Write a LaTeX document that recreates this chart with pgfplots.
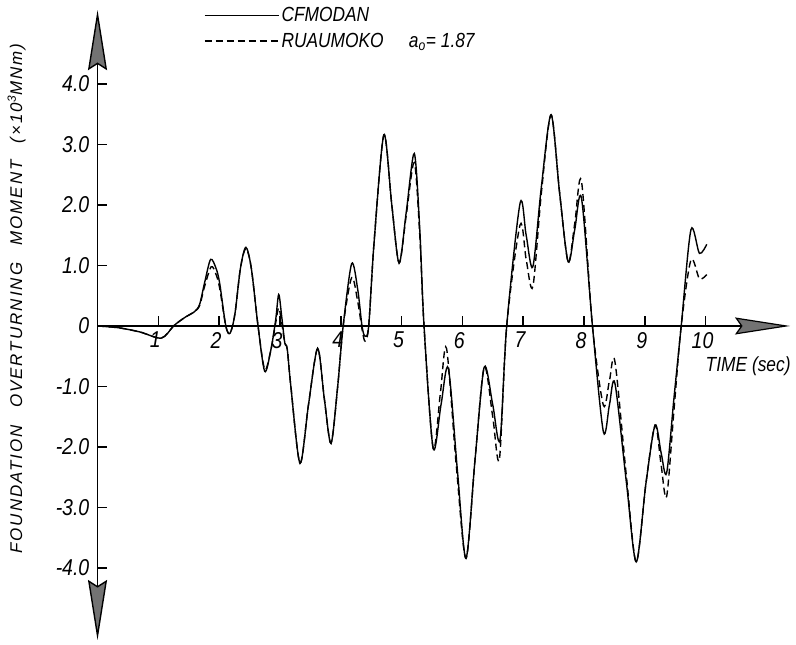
\documentclass[border=0pt]{standalone}
\usepackage{fontspec}
\setmainfont{Liberation Sans}[FakeStretch=0.85]
\newfontfamily\labfont{Liberation Sans}[LetterSpace=12]
\usepackage{pgfplots}
\pgfplotsset{compat=1.18}
\usetikzlibrary{arrows.meta}
\begin{document}
\begin{tikzpicture}
\begin{axis}[
  x=60.8bp, y=60.5bp,
  xmin=0, xmax=11.39, ymin=-5.19, ymax=5.22,
  axis x line*=middle, axis y line*=left,
  clip=false,
  unbounded coords=jump,
  x axis line style={line width=1.2bp, -{Stealth[length=55bp,width=17bp,inset=6bp,fill=black!55]}},
  y axis line style={line width=1.4bp, {Stealth[length=60bp,width=19bp,inset=6bp,fill=black!55]}-{Stealth[length=60bp,width=19bp,inset=6bp,fill=black!55]}},
  xtick={1,2,3,4,5,6,7,8,9,10},
  xticklabels={1,2,3,4,5,6,7,8,9,10},
  ytick={-4,-3,-2,-1,0,1,2,3,4},
  yticklabels={-4.0,-3.0,-2.0,-1.0,0,1.0,2.0,3.0,4.0},
  major tick length=0pt,
  ticklabel style={font=\itshape\fontsize{23}{25}\selectfont, inner sep=0pt},
  yticklabel style={anchor=east, xshift=-8bp},
  xticklabel style={anchor=north, yshift=-6bp, xshift=-3bp},
  legend style={draw=none, fill=none, at={(axis cs:1.75,5.30)}, anchor=north west,
    font=\itshape\fontsize{20.5}{22}\selectfont, row sep=6bp, inner sep=0pt},
  legend image code/.code={\draw[#1] (0bp,0bp) -- (58bp,0bp); \path (0bp,0bp) -- (74bp,0bp);},
  legend cell align=left,
]
\addplot[black, line width=1.4bp, smooth, tension=0.5] coordinates {
(0,0) (0.35,-0.03) (0.7,-0.1) (1.05,-0.2) (1.25,0) (1.35,0.08) (1.45,0.15) (1.6,0.24)
(1.68,0.36) (1.76,0.71) (1.86,1.1) (1.95,0.95) (2.01,0.7) (2.11,0) (2.18,-0.12)
(2.26,0.2) (2.35,0.95) (2.44,1.3) (2.53,0.95) (2.64,0) (2.75,-0.75) (2.85,-0.4)
(2.93,0.1) (2.98,0.52) (3.03,0.15) (3.08,-0.28) (3.12,-0.38) (3.18,-1.0) (3.33,-2.27)
(3.47,-1.3) (3.62,-0.37) (3.73,-1.2) (3.84,-1.94) (3.95,-1.0) (4.04,0) (4.18,1.03)
(4.28,0.6) (4.35,0) (4.40,-0.17) (4.46,0) (4.55,1.4) (4.71,3.16) (4.84,2.0)
(4.96,1.04) (5.08,1.9) (5.21,2.85) (5.30,1.6) (5.37,0) (5.52,-2.02) (5.65,-1.3)
(5.77,-0.70) (5.92,-2.4) (6.06,-3.84) (6.21,-2.2) (6.36,-0.68) (6.5,-1.3)
(6.62,-1.88) (6.73,0) (6.95,2.03) (7.05,1.5) (7.16,0.98) (7.3,2.3) (7.46,3.49)
(7.6,2.2) (7.74,1.06) (7.85,1.6) (7.96,2.11) (8.14,0) (8.32,-1.75) (8.42,-1.3)
(8.51,-0.95) (8.7,-2.6) (8.86,-3.90) (9.02,-2.6) (9.17,-1.64) (9.27,-2.1)
(9.36,-2.43) (9.48,-1.2) (9.6,0) (9.76,1.59) (9.9,1.2) (10.02,1.35)
};
\addlegendentry{CFMODAN}
\addplot[black, line width=1.4bp, dash pattern=on 7bp off 4bp, smooth, tension=0.5] coordinates {
(0,0) (0.35,-0.03) (0.7,-0.1) (1.05,-0.2) (1.25,0) (1.35,0.08) (1.45,0.15) (1.6,0.24)
(1.68,0.34) (1.76,0.65) (1.87,0.98) (1.95,0.85) (2.01,0.62) (2.11,0) (2.18,-0.12)
(2.26,0.2) (2.35,0.95) (2.44,1.28) (2.53,0.95) (2.64,0) (2.75,-0.72) (2.85,-0.4)
(2.93,0.05) (2.98,0.3) (3.03,0.05) (3.08,-0.28) (3.12,-0.38) (3.18,-1.0) (3.33,-2.27)
(3.47,-1.3) (3.62,-0.37) (3.73,-1.2) (3.84,-1.94) (3.95,-1.0) (4.04,0) (4.18,0.8)
(4.28,0.4) (4.35,-0.05) (4.40,-0.25) (4.46,0) (4.55,1.4) (4.71,3.16) (4.84,2.0)
(4.96,1.04) (5.08,1.85) (5.21,2.7) (5.30,1.5) (5.37,0) (5.52,-2.02) (5.64,-1.1)
(5.74,-0.37) (5.9,-2.3) (6.06,-3.84) (6.21,-2.2) (6.36,-0.68) (6.5,-1.5)
(6.61,-2.2) (6.73,0) (6.95,1.67) (7.05,1.1) (7.16,0.65) (7.3,2.2) (7.46,3.49)
(7.6,2.2) (7.74,1.06) (7.85,1.7) (7.96,2.39) (8.14,0) (8.32,-1.31) (8.42,-0.9)
(8.51,-0.59) (8.7,-2.5) (8.86,-3.90) (9.02,-2.6) (9.17,-1.64) (9.27,-2.3)
(9.36,-2.82) (9.48,-1.4) (9.6,0) (9.76,1.09) (9.9,0.78) (10.02,0.85)
};
\addlegendentry{RUAUMOKO\quad\ a\textsubscript{o}= 1.87}
\addplot[black, line width=1.6bp, forget plot] coordinates {
(1,0) (1,0.16) (nan,nan) (2,0) (2,0.16) (nan,nan) (3,0) (3,0.16) (nan,nan)
(4,0) (4,0.16) (nan,nan) (5,0) (5,0.16) (nan,nan) (6,0) (6,0.16) (nan,nan)
(7,0) (7,0.16) (nan,nan) (8,0) (8,0.16) (nan,nan) (9,0) (9,0.16) (nan,nan)
(10,0) (10,0.16)
};
\addplot[black, line width=1.4bp, forget plot] coordinates {
(0,4) (0.16,4) (nan,nan) (0,3) (0.16,3) (nan,nan) (0,2) (0.16,2) (nan,nan)
(0,1) (0.16,1) (nan,nan) (0,-1) (0.16,-1) (nan,nan) (0,-2) (0.16,-2) (nan,nan)
(0,-3) (0.16,-3) (nan,nan) (0,-4) (0.16,-4)
};
\node[anchor=west, font=\itshape\fontsize{20.5}{22}\selectfont, inner sep=0pt] at (axis cs:10.0,-0.66) {TIME (sec)};
\node[rotate=90, font=\itshape\labfont\fontsize{17}{19}\selectfont] at (axis cs:-1.33,0.45)
  {FOUNDATION\quad OVERTURNING\quad MOMENT\quad (×10\textsuperscript{3}MNm)};
\path (axis cs:-1.604,5.388) rectangle (axis cs:11.488,-5.273);
\end{axis}
\end{tikzpicture}
\end{document}
